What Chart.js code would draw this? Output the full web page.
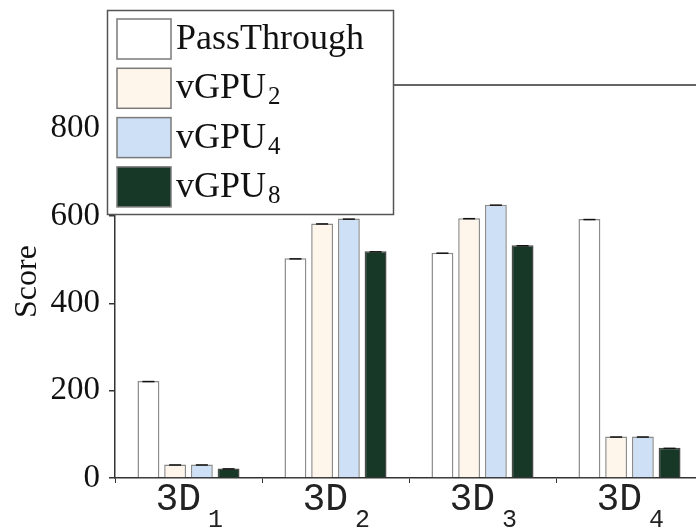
<!DOCTYPE html>
<html>
<head>
<meta charset="utf-8">
<script src="https://cdn.jsdelivr.net/npm/chart.js@4.4.0/dist/chart.umd.min.js"></script>
<style>
  html,body{margin:0;padding:0;background:#fff;overflow:hidden}
  #wrap{width:710px;height:530px}
</style>
</head>
<body>
<div id="wrap"><canvas id="c" width="710" height="530"></canvas></div>
<script>
'use strict';
// ── data ──
const categories=['3D_1','3D_2','3D_3','3D_4'];
const seriesNames=['PassThrough','vGPU_2','vGPU_4','vGPU_8'];
const passThrough=[222,503,516,593];
const vgpu2=[31,583,595,95];
const vgpu4=[31,594,626,95];
const vgpu8=[22,519,533,69];
const yTicks=[0,200,400,600,800];
const yMax=900;

const fills=['#ffffff','#fff6eb','#cde0f5','#173826'];
const borders=['#8c8c8c','#8c8c8c','#8c8c8c','#4a4a4a'];
const SERIF="'Liberation Serif','Times New Roman',serif";
const MONO="'Liberation Mono','Courier New',monospace";

// split 'vGPU_2' -> ['vGPU','2']
const split=s=>{const p=s.split('_');return [p[0],p[1]||'']};

const helpers={
  id:'figExtras',
  beforeDatasetsDraw(chart){
    // top frame line of plot area
    const {ctx,chartArea:a}=chart;
    ctx.save();ctx.strokeStyle='#333';ctx.lineWidth=1.5;
    ctx.beginPath();ctx.moveTo(a.left,a.top);ctx.lineTo(a.right,a.top);ctx.stroke();
    ctx.restore();
  },
  afterDatasetsDraw(chart){
    // tiny error caps on top of each bar
    const ctx=chart.ctx;
    ctx.save();ctx.strokeStyle='#111';ctx.lineWidth=1.5;
    chart.data.datasets.forEach((ds,i)=>{
      chart.getDatasetMeta(i).data.forEach(b=>{
        ctx.beginPath();ctx.moveTo(b.x-6,b.y+0.5);ctx.lineTo(b.x+6,b.y+0.5);ctx.stroke();
      });
    });
    ctx.restore();
  },
  afterDraw(chart){
    const ctx=chart.ctx,xs=chart.scales.x;
    ctx.save();
    // x tick labels with subscripts
    ctx.fillStyle='#222';ctx.textBaseline='alphabetic';ctx.textAlign='left';
    categories.forEach((c,i)=>{
      const [base,sub]=split(c);
      const x=xs.getPixelForTick(i);
      ctx.font='38px '+MONO;
      const w=ctx.measureText(base).width;
      const x0=x-33;
      ctx.fillText(base,x0,510);
      ctx.font='25px '+MONO;
      ctx.fillText(sub,x0+w+7,527);
    });
    // legend box
    const L=107,T=10,W=286,H=204;
    ctx.fillStyle='#fff';ctx.fillRect(L,T,W,H);
    ctx.strokeStyle='#555';ctx.lineWidth=1.5;ctx.strokeRect(L+0.5,T+0.5,W,H);
    chart.data.datasets.forEach((ds,i)=>{
      const sy=19+i*49.3;
      ctx.fillStyle=ds.backgroundColor;ctx.fillRect(117,sy,54,40);
      ctx.strokeStyle='#7a7a7a';ctx.lineWidth=1.5;ctx.strokeRect(117,sy,54,40);
      const [base,sub]=split(ds.label);
      ctx.fillStyle='#111';ctx.font='36px '+SERIF;
      ctx.fillText(base,176,sy+30);
      const w=ctx.measureText(base).width;
      if(sub){ctx.font='25px '+SERIF;ctx.fillText(sub,176+w+2,sy+36)}
    });
    ctx.restore();
  }
};

const series=[passThrough,vgpu2,vgpu4,vgpu8];
new Chart(document.getElementById('c'),{
  type:'bar',
  data:{labels:categories,datasets:series.map((d,i)=>({
    label:seriesNames[i],data:d,backgroundColor:fills[i],borderColor:borders[i],borderWidth:1.5,
    categoryPercentage:0.727,barPercentage:0.82
  }))},
  options:{
    responsive:false,animation:false,
    layout:{padding:{left:0,top:85,right:7,bottom:0}},
    plugins:{legend:{display:false},tooltip:{enabled:false}},
    scales:{
      x:{
        grid:{drawOnChartArea:false,tickLength:5,color:'#333'},
        border:{color:'#333',width:1.5},
        ticks:{display:false},
        afterFit(s){s.height=52}
      },
      y:{
        min:0,max:yMax,
        grid:{drawOnChartArea:false,tickLength:6,color:'#333',lineWidth:1.5},
        border:{color:'#333',width:1.5},
        afterBuildTicks(s){s.ticks=yTicks.map(v=>({value:v}))},
        ticks:{color:'#111',padding:9,font:{family:SERIF,size:33}},
        title:{display:true,text:'Score',color:'#111',padding:{top:8,bottom:0},font:{family:SERIF,size:32}},
        afterFit(s){s.width=115}
      }
    }
  },
  plugins:[helpers]
});
</script>
</body>
</html>
